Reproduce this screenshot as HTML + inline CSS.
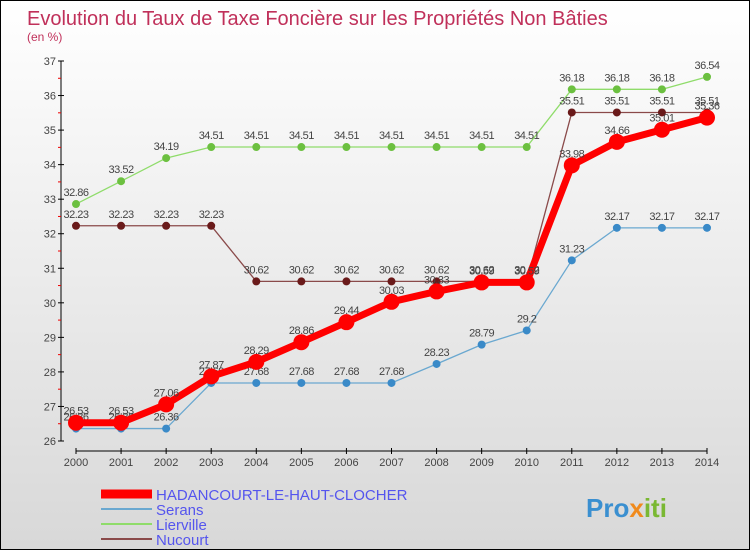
<!DOCTYPE html>
<html><head><meta charset="utf-8"><style>
body{margin:0}
#c{width:750px;height:550px;position:relative;box-sizing:border-box;border:1px solid #000;background:linear-gradient(#fff,#d8d8d8);font-family:"Liberation Sans",sans-serif;overflow:hidden}
</style></head><body>
<div id="c">
<svg width="748" height="548" id="s" style="position:absolute;left:0;top:0">
<text x="26" y="24" font-size="20" fill="#c0305a">Evolution du Taux de Taxe Foncière sur les Propriétés Non Bâties</text>
<text x="26" y="40" font-size="12" fill="#c0305a">(en %)</text>
<g id="axes"></g><g id="series"></g><g id="legend"></g>
<text x="585" y="516" font-size="26" font-weight="bold" fill="#3a8fd0">Pro<tspan fill="#f08a1c">x</tspan><tspan fill="#7ab833">iti</tspan></text>
</svg>
</div>
<script>
const years=[2000,2001,2002,2003,2004,2005,2006,2007,2008,2009,2010,2011,2012,2013,2014];
const yTicks=[26,27,28,29,30,31,32,33,34,35,36,37];
const hadancourt=[26.53,26.53,27.06,27.87,28.29,28.86,29.44,30.03,30.33,30.59,30.59,33.98,34.66,35.01,35.36];
const serans=[26.36,26.36,26.36,27.68,27.68,27.68,27.68,27.68,28.23,28.79,29.2,31.23,32.17,32.17,32.17];
const lierville=[32.86,33.52,34.19,34.51,34.51,34.51,34.51,34.51,34.51,34.51,34.51,36.18,36.18,36.18,36.54];
const nucourt=[32.23,32.23,32.23,32.23,30.62,30.62,30.62,30.62,30.62,30.62,30.62,35.51,35.51,35.51,35.51];
const NS="http://www.w3.org/2000/svg";
const X=i=>75+i*(706-75)/(years.length-1);
const Y=v=>440-(v-26)*(380/11);
function el(t,a,p){const e=document.createElementNS(NS,t);for(const k in a)e.setAttribute(k,a[k]);p.appendChild(e);return e;}
const ax=document.getElementById('axes');
let e=el('line',{x1:60,y1:Y(37),x2:60,y2:Y(26),stroke:'#000'},ax);


yTicks.forEach(v=>{
 el('line',{x1:57,y1:Y(v),x2:63,y2:Y(v),stroke:'#000'},ax);
 if(v<37)el('line',{x1:57,y1:Y(v+0.5),x2:60,y2:Y(v+0.5),stroke:'#e00'},ax);
 const t=el('text',{x:55,y:Y(v)+4,'font-size':11,fill:'#444','text-anchor':'end'},ax);t.textContent=v;
 
 
});
e=el('line',{x1:75,y1:450,x2:706,y2:450,stroke:'#000'},ax);


years.forEach((y,i)=>{
 el('line',{x1:X(i),y1:447,x2:X(i),y2:453,stroke:'#000'},ax);
 const t=el('text',{x:X(i),y:465,'font-size':11,fill:'#444','text-anchor':'middle'},ax);t.textContent=y;
 
 
});
const sg=document.getElementById('series');
function series(data,color,w,r,pc,name){
 const g=el('g',{},sg);
 
 
 el('polyline',{points:data.map((v,i)=>X(i)+','+Y(v)).join(' '),fill:'none',stroke:color,'stroke-width':w,'stroke-linejoin':'round'},g);
 data.forEach((v,i)=>{
  const c=el('circle',{cx:X(i),cy:Y(v),r:r,fill:pc},g);
  
  
  const t=el('text',{x:X(i),y:Y(v)-8,'font-size':11,fill:'#444','text-anchor':'middle','letter-spacing':'-0.5'},g);t.textContent=v;
  
  
 });
}
series(lierville,'#8fdc6a',1.3,4,'#6cc040','lierville');
series(nucourt,'#8a4a4a',1.3,4,'#6a1a1a','nucourt');
series(serans,'#6aa8d0',1.3,4,'#3a8ac8','serans');
series(hadancourt,'#f00',7,8,'#f00','hadancourt');
const lg=document.getElementById('legend');
[['HADANCOURT-LE-HAUT-CLOCHER','#f00',9],['Serans','#6aa8d0',2],['Lierville','#8fdc6a',2],['Nucourt','#8a4a4a',2]].forEach((d,i)=>{
 const yy=493+i*15;
 el('line',{x1:100,y1:yy,x2:151,y2:yy,stroke:d[1],'stroke-width':d[2]},lg);
 const t=el('text',{x:155,y:yy+6,'font-size':15,fill:'#5555ee'},lg);t.textContent=d[0];
 
 
});
</script>
</body></html>
